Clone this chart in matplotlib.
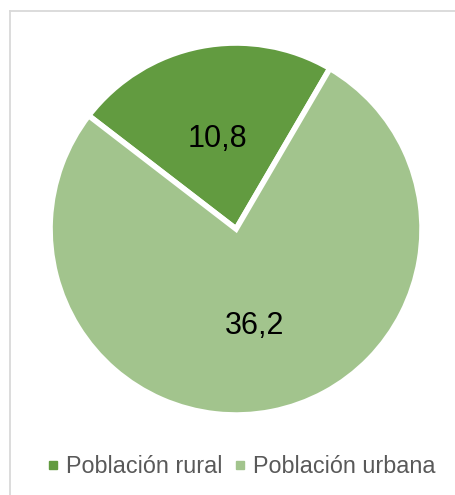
import matplotlib.pyplot as plt
from matplotlib.lines import Line2D

categories = ['Población rural', 'Población urbana']
values = [10.8, 36.2]
colors = ['#629b40', '#a2c48d']

plt.rcParams['font.family'] = ['Liberation Sans', 'DejaVu Sans']

fig = plt.figure(figsize=(4.55, 4.95), dpi=100)
ax = fig.add_axes([0.110, 0.1616, 0.8176, 0.7515])

labels = [f'{v:.1f}'.replace('.', ',') for v in values]
wedges, texts = ax.pie(values, colors=colors, startangle=59.7, counterclock=True,
                       labels=labels, labeldistance=0.51,
                       wedgeprops=dict(edgecolor='white', linewidth=4))
for t in texts:
    t.set_fontsize(22)
    t.set_color('black')
    t.set_horizontalalignment('center')
    t.set_verticalalignment('center_baseline')
ax.set_xlim(-1, 1)
ax.set_ylim(-1, 1)
ax.set_aspect('equal')

# legend with small square markers
handles = [Line2D([0], [0], marker='s', linestyle='', markersize=6,
                  markerfacecolor=c, markeredgecolor=c) for c in colors]
fig.legend(handles, categories, loc='center', bbox_to_anchor=(0.531, 0.058),
           ncol=2, frameon=False, fontsize=16.8, handlelength=0.5,
           handletextpad=0.3, columnspacing=0.5, labelcolor='#595959')

# light chart-area border (left and top visible)
fig.add_artist(Line2D([9.5 / 455, 9.5 / 455], [0, 1 - 10.5 / 495],
                      color='#d9d9d9', linewidth=1.3, transform=fig.transFigure))
fig.add_artist(Line2D([9.5 / 455, 1], [1 - 10.5 / 495, 1 - 10.5 / 495],
                      color='#d9d9d9', linewidth=1.3, transform=fig.transFigure))

fig.savefig('out.png', dpi=100)
